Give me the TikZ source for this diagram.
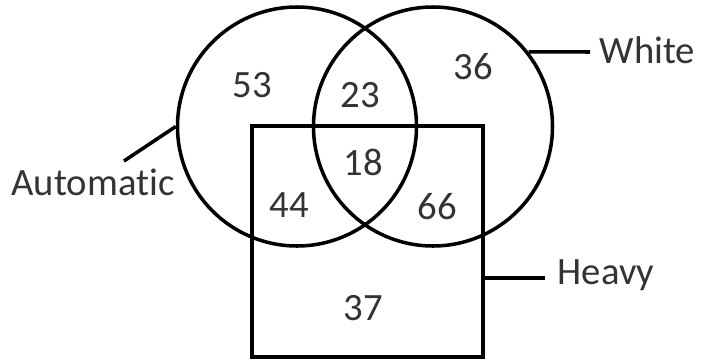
\documentclass[tikz,border=0pt]{standalone}
\usepackage{fontspec}
\setmainfont{Carlito}[Ligatures=NoCommon]
\usepackage{tikz}

\begin{document}
\begin{tikzpicture}[line width=1pt,
    setc/.style={draw, circle, minimum size=2.39cm, inner sep=0pt},
    num/.style={text=black!80, font=\fontsize{11}{13}\selectfont},
    lab/.style={num, anchor=base}]
        \useasboundingbox (0,0) rectangle (7.01,3.63);

        % Hai đường tròn và hình vuông
        \node[setc] (auto) at (2.97,2.365) {};
        \node[setc] (white) at (4.33,2.365) {};
        \node[draw, minimum width=2.31cm, minimum height=2.31cm, inner sep=0pt] (heavy) at (3.675,1.215) {};

        % Nhãn các tập
        \node[lab] (tauto) at (0.93,1.68) {Automatic};
        \node[lab] (twhite) at (6.475,3.00) {White};
        \node[lab] (theavy) at (6.06,0.79) {Heavy};

        % Đường nối nhãn
        \coordinate (autotip) at (1.24,2.02);
        \coordinate (whitetip) at (5.90,3.11);
        \coordinate (heavytip) at (5.45,0.85);
        \draw (autotip) -- (auto.west);
        \draw (white.38.6) -- (whitetip);
        \draw (heavy.east |- heavytip) -- (heavytip);

        % Số phần tử từng miền
        \node[num] (n53) at (2.52,2.78) {53};
        \node[num] (n23) at (3.60,2.68) {23};
        \node[num] (n36) at (4.73,2.96) {36};
        \node[num] (n18) at (3.63,2.01) {18};
        \node[num] (n44) at (2.89,1.58) {44};
        \node[num] (n66) at (4.37,1.56) {66};
        \node[num] (n37) at (3.63,0.55) {37};
    \end{tikzpicture}
\end{document}
